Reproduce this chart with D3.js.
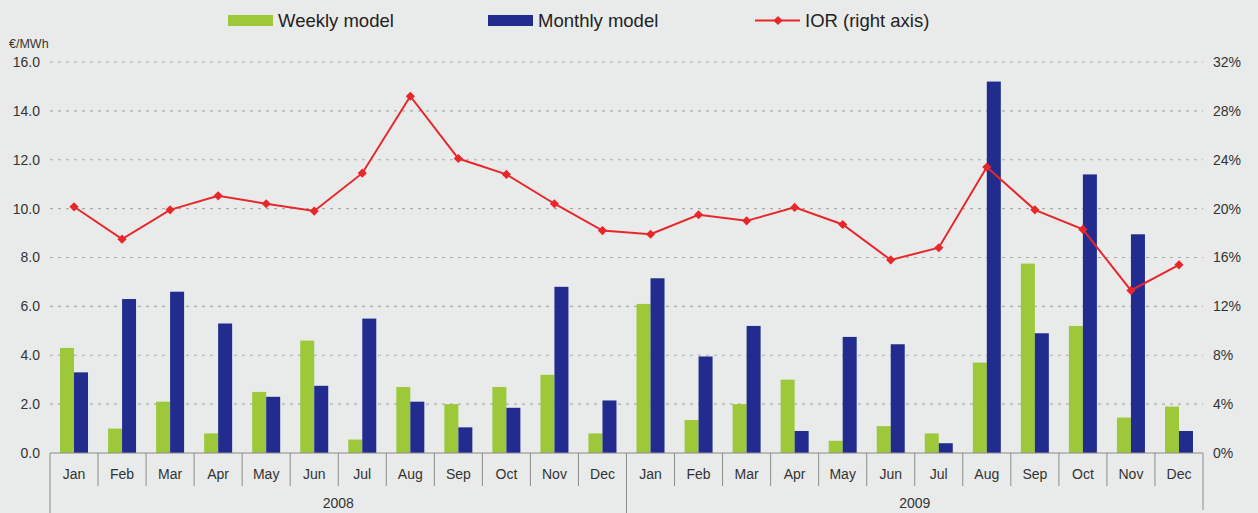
<!DOCTYPE html>
<html>
<head>
<meta charset="utf-8">
<script src="https://cdn.jsdelivr.net/npm/d3@7"></script>
<style>
  html, body { margin: 0; padding: 0; background: #e9ebea; }
  svg { display: block; font-family: "Liberation Sans", Arial, sans-serif; }
</style>
</head>
<body>
<svg id="chart" width="1258" height="513"></svg>
<script>
const months = ["Jan","Feb","Mar","Apr","May","Jun","Jul","Aug","Sep","Oct","Nov","Dec"];
const years = ["2008", "2009"];
const weekly = [4.3, 1.0, 2.1, 0.8, 2.5, 4.6, 0.55, 2.7, 2.0, 2.7, 3.2, 0.8,
                6.1, 1.35, 2.0, 3.0, 0.5, 1.1, 0.8, 3.7, 7.75, 5.2, 1.45, 1.9];
const monthly = [3.3, 6.3, 6.6, 5.3, 2.3, 2.75, 5.5, 2.1, 1.05, 1.85, 6.8, 2.15,
                 7.15, 3.95, 5.2, 0.9, 4.75, 4.45, 0.4, 15.2, 4.9, 11.4, 8.95, 0.9];
const ior = [20.15, 17.5, 19.9, 21.05, 20.4, 19.8, 22.9, 29.2, 24.1, 22.8, 20.4, 18.2,
             17.9, 19.5, 19.0, 20.1, 18.7, 15.8, 16.8, 23.4, 19.9, 18.3, 13.3, 15.4];
const leftTicks = [0, 2, 4, 6, 8, 10, 12, 14, 16];
const rightTicks = [0, 4, 8, 12, 16, 20, 24, 28, 32];
const seriesNames = ["Weekly model", "Monthly model", "IOR (right axis)"];

(function () {
const colGreen = "#9cc83a", colBlue = "#222c8e", colRed = "#e8272b", textCol = "#333";

const keys = d3.range(24);
const svg = d3.select("#chart");
const pL = 50, pR = 1203, pT = 62, pB = 453;

const x = d3.scaleBand().domain(keys).range([pL, pR]).padding(0);
const yL = d3.scaleLinear().domain([0, 16]).range([pB, pT]);
const yR = d3.scaleLinear().domain([0, 32]).range([pB, pT]);

// grid lines
svg.append("g").selectAll("line").data(leftTicks.slice(1)).join("line")
  .attr("x1", pL).attr("x2", pR)
  .attr("y1", d => yL(d)).attr("y2", d => yL(d))
  .attr("stroke", "#a9abab").attr("stroke-width", 1.2)
  .attr("stroke-dasharray", "3,5");

// left ticks
const ga = svg.append("g").attr("transform", `translate(${pL},0)`)
  .call(d3.axisLeft(yL).tickValues(leftTicks).tickFormat(d3.format(".1f")).tickSize(0).tickPadding(10));
ga.select(".domain").remove();
ga.selectAll("text").attr("font-size", 14).attr("fill", textCol)
  .attr("font-family", "Liberation Sans, Arial, sans-serif");

// right ticks
const gr = svg.append("g").attr("transform", `translate(${pR},0)`)
  .call(d3.axisRight(yR).tickValues(rightTicks).tickFormat(d => d + "%").tickSize(0).tickPadding(10));
gr.select(".domain").remove();
gr.selectAll("text").attr("font-size", 14).attr("fill", textCol)
  .attr("font-family", "Liberation Sans, Arial, sans-serif");

svg.append("text").attr("x", 9).attr("y", 48).attr("font-size", 12.5).attr("fill", textCol).text("€/MWh");

// bars
const bw = 14;
svg.append("g").selectAll("rect").data(keys).join("rect")
  .attr("x", d => x(d) + x.bandwidth() / 2 - bw)
  .attr("width", bw)
  .attr("y", d => yL(weekly[d]))
  .attr("height", d => pB - yL(weekly[d]))
  .attr("fill", colGreen);
svg.append("g").selectAll("rect").data(keys).join("rect")
  .attr("x", d => x(d) + x.bandwidth() / 2)
  .attr("width", bw)
  .attr("y", d => yL(monthly[d]))
  .attr("height", d => pB - yL(monthly[d]))
  .attr("fill", colBlue);

// x axis lines
const ax = svg.append("g").attr("stroke", "#8a8c8c").attr("stroke-width", 1);
ax.append("line").attr("x1", pL).attr("x2", pR).attr("y1", pB).attr("y2", pB);
ax.selectAll("line.sep").data(d3.range(1, 24).filter(i => i !== 12)).join("line")
  .attr("class", "sep")
  .attr("x1", i => x(i)).attr("x2", i => x(i))
  .attr("y1", pB).attr("y2", pB + 33);
ax.selectAll("line.ysep").data([0, 12]).join("line")
  .attr("class", "ysep")
  .attr("x1", i => x(i)).attr("x2", i => x(i))
  .attr("y1", pB).attr("y2", 513);
ax.append("line").attr("x1", pR).attr("x2", pR).attr("y1", pB).attr("y2", 510);

// month labels
svg.append("g").selectAll("text").data(keys).join("text")
  .attr("x", d => x(d) + x.bandwidth() / 2)
  .attr("y", pB + 26)
  .attr("text-anchor", "middle").attr("font-size", 14).attr("fill", textCol)
  .text(d => months[d % 12]);
svg.append("g").selectAll("text").data(years).join("text")
  .attr("x", (d, i) => (x(i * 12) + (i === 0 ? x(12) : pR)) / 2)
  .attr("y", 508)
  .attr("text-anchor", "middle").attr("font-size", 14).attr("fill", textCol)
  .text(d => d);

// IOR line
const line = d3.line().x(d => x(d) + x.bandwidth() / 2).y(d => yR(ior[d]));
svg.append("path").datum(keys).attr("d", line)
  .attr("fill", "none").attr("stroke", colRed).attr("stroke-width", 2);
const marker = d3.symbol().type(d3.symbolSquare).size(42);
svg.append("g").selectAll("path").data(keys).join("path")
  .attr("d", marker)
  .attr("transform", d => `translate(${x(d) + x.bandwidth() / 2},${yR(ior[d])}) rotate(45)`)
  .attr("fill", colRed);

// legend
const lg = svg.append("g");
const legendX = [228, 488, 755];
lg.append("rect").attr("x", legendX[0]).attr("y", 15).attr("width", 45).attr("height", 11).attr("fill", colGreen);
lg.append("rect").attr("x", legendX[1]).attr("y", 15).attr("width", 45).attr("height", 11).attr("fill", colBlue);
lg.append("line").attr("x1", legendX[2]).attr("x2", legendX[2] + 45).attr("y1", 20.5).attr("y2", 20.5)
  .attr("stroke", colRed).attr("stroke-width", 2);
lg.append("path").attr("d", marker).attr("transform", `translate(${legendX[2] + 23},20.5) rotate(45)`).attr("fill", colRed);
lg.selectAll("text").data(seriesNames).join("text")
  .attr("x", (d, i) => legendX[i] + 50)
  .attr("y", 27)
  .attr("font-size", 18.5).attr("fill", "#222")
  .text(d => d);
})();
</script>
</body>
</html>
